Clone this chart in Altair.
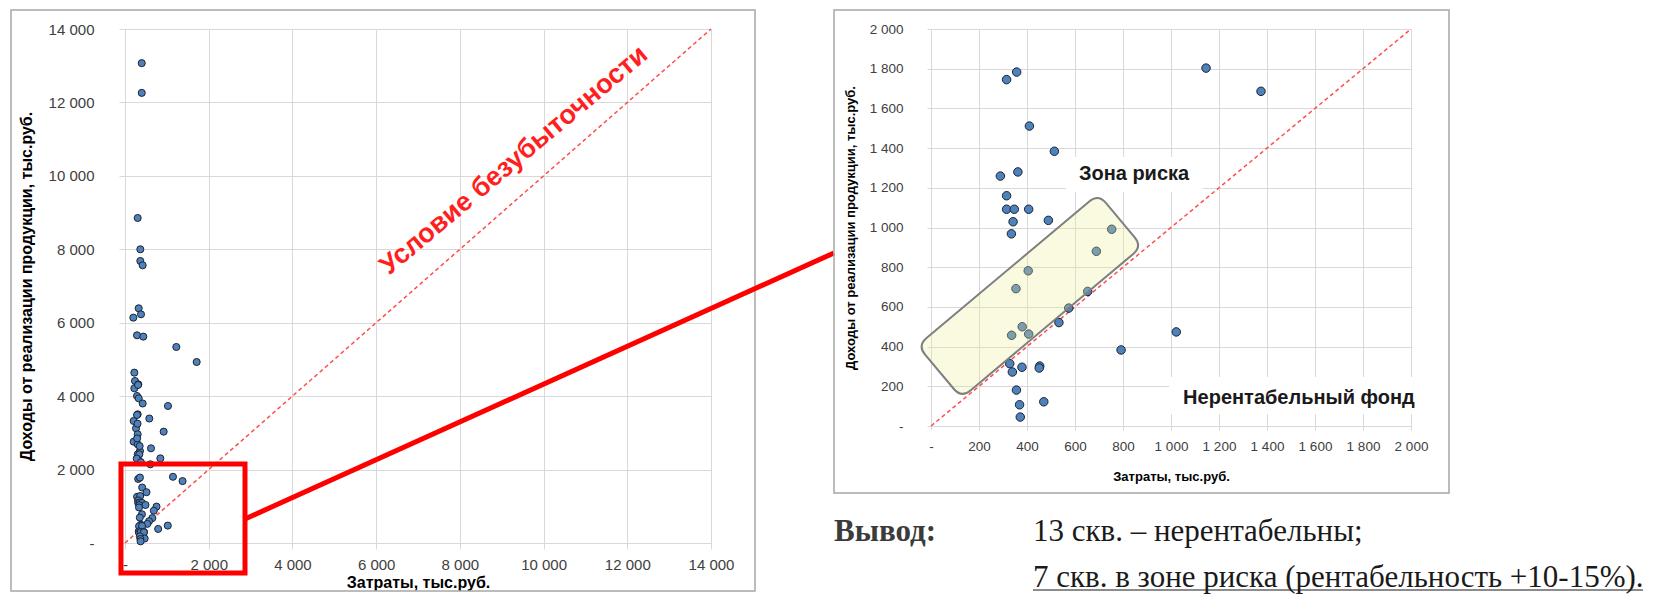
import altair as alt
import pandas as pd

# ---- data (тыс.руб.) ----
# wells visible in the zoomed chart (costs <= 2000, revenue <= 2000)
zoom_cost = [315, 357, 1146, 1375, 410, 514, 289, 362, 315, 315, 347, 407, 342, 489,
             335, 753, 689, 405, 354, 653, 574, 533, 380, 336, 407, 1022, 792, 328,
             339, 379, 453, 451, 356, 470, 369, 372]
zoom_rev = [1745, 1783, 1803, 1686, 1511, 1384, 1259, 1280, 1160, 1092, 1092, 1092, 1029, 1036,
            968, 991, 880, 782, 692, 678, 594, 521, 500, 457, 463, 474, 383, 314,
            272, 296, 302, 292, 181, 122, 107, 45]
# remaining wells (revenue above 2000)
high_cost = [400, 400, 303, 366, 366, 422, 327, 382, 199, 287, 437, 1226, 1712, 223,
             239, 318, 223, 287, 327, 422, 1027, 303, 581, 287, 207, 263, 924, 303,
             207, 303, 358, 621, 303, 844, 605, 330, 311, 342, 290, 350, 280, 380, 300]
high_rev = [13070, 12260, 8853, 8000, 7682, 7564, 6393, 6229, 6138, 5657, 5621, 5339, 4930, 4640,
            4413, 4322, 4213, 4004, 3941, 3800, 3732, 3505, 3390, 3487, 3323, 3124, 3033, 2961,
            2760, 2688, 2506, 2579, 2415, 2306, 2143, 2250, 4304, 2416, 2850, 2640, 2300, 2200, 3250]

left_ticks = [0, 2000, 4000, 6000, 8000, 10000, 12000, 14000]
right_ticks = [0, 200, 400, 600, 800, 1000, 1200, 1400, 1600, 1800, 2000]

risk_center = {"cost": [412], "rev": [655]}

df = pd.DataFrame({"cost": zoom_cost + high_cost, "rev": zoom_rev + high_rev})

LABEL_EXPR = "datum.value == 0 ? '-' : replace(format(datum.value, ','), ',', ' ')"
SANS = "Liberation Sans"
SERIF = "Liberation Serif"
GRID = "#d9d9d9"


def one(**kw):
    return pd.DataFrame({k: [v] for k, v in kw.items()})


def axis(values, title, label_pad, tick, title_pad, lsize, tsize):
    return alt.Axis(values=values, labelExpr=LABEL_EXPR, grid=True, gridColor=GRID, gridWidth=1,
                    domain=False, ticks=True, tickColor=GRID, tickSize=tick, labelPadding=label_pad,
                    labelFont=SANS, labelFontSize=lsize, labelColor="#404040", labelFlush=False,
                    title=title, titleFont=SANS, titleFontSize=tsize, titleFontWeight="bold",
                    titleColor="#000000", titlePadding=title_pad, labelOverlap=False)


# ================= LEFT CHART =================
LW, LH = 586, 514
xL = alt.Scale(domain=[0, 14000], nice=False, zero=False)
yL = alt.Scale(domain=[0, 14000], nice=False, zero=False)
axLx = axis(left_ticks, "Затраты, тыс.руб.", 8, 6, 2, 15, 16)
axLy = axis(left_ticks, "Доходы от реализации продукции, тыс.руб.", 25, 6, 14, 15, 16)
XL = alt.X("cost:Q", scale=xL, axis=axLx)
YL = alt.Y("rev:Q", scale=yL, axis=axLy)

l_frame = alt.Chart(one(a=1)).mark_rect(fillOpacity=0, stroke="#a6a6a6", strokeWidth=1.5).encode(
    x=alt.value(-114), x2=alt.value(630), y=alt.value(-19), y2=alt.value(562))

l_diag = alt.Chart(pd.DataFrame({"cost": [0, 14000], "rev": [0, 14000]})).mark_line(
    color="#ff4d4d", strokeDash=[4, 3], strokeWidth=1.5).encode(x=XL, y=YL)

l_pts = alt.Chart(df).mark_circle(size=50, color="#4f81bd", stroke="#1c2430", strokeWidth=1,
                                   opacity=1).encode(x=XL, y=YL)

l_text = alt.Chart(one(cost=9293, rev=10420, t="Условие безубыточности")).mark_text(
    angle=320, font=SANS, fontSize=27, fontWeight="bold", color="#ff1f1f",
    align="center", baseline="middle").encode(x=XL, y=YL, text="t:N")

l_box = alt.Chart(one(cost=-96, cost2=2867, rev=2152, rev2=-817)).mark_rect(
    fillOpacity=0, stroke="#ff0000", strokeWidth=5).encode(x=XL, x2="cost2:Q", y=YL, y2="rev2:Q")

l_link = alt.Chart(one(cost=2867, rev=654, cost2=16938, rev2=7900)).mark_rule(
    color="#ff0000", strokeWidth=5).encode(x=XL, x2="cost2:Q", y=YL, y2="rev2:Q")

left = alt.layer(l_frame, l_diag, l_pts, l_text, l_box, l_link).properties(width=LW, height=LH)

# ================= RIGHT CHART =================
RW, RH = 480, 397
xR = alt.Scale(domain=[0, 2000], nice=False, zero=False)
yR = alt.Scale(domain=[0, 2000], nice=False, zero=False)
axRx = axis(right_ticks, "Затраты, тыс.руб.", 9, 4, 18, 13.5, 13)
axRy = axis(right_ticks, "Доходы от реализации продукции, тыс.руб.", 24, 4, 12, 13.5, 13)
XR = alt.X("cost:Q", scale=xR, axis=axRx)
YR = alt.Y("rev:Q", scale=yR, axis=axRy)

r_frame = alt.Chart(one(a=1)).mark_rect(fillOpacity=0, stroke="#a6a6a6", strokeWidth=1.5).encode(
    x=alt.value(-97), x2=alt.value(518), y=alt.value(-19), y2=alt.value(464))

r_white = alt.Chart(pd.DataFrame({"cost": [562, 992], "cost2": [1133, 2063],
                                  "rev": [1355, 247], "rev2": [1179, 60]})).mark_rect(
    color="#ffffff").encode(x=XR, x2="cost2:Q", y=YR, y2="rev2:Q")

r_diag = alt.Chart(pd.DataFrame({"cost": [0, 2000], "rev": [0, 2000]})).mark_line(
    color="#ff4d4d", strokeDash=[4, 3], strokeWidth=1.5).encode(x=XR, y=YR)

r_pts = alt.Chart(df).transform_filter("datum.cost <= 2000 && datum.rev <= 2000").mark_circle(
    size=72, color="#4f81bd", stroke="#1c2430", strokeWidth=1, opacity=1).encode(x=XR, y=YR)

RISK_PATH = ("M -0.9 -0.29 L 0.9 -0.29 Q 1 -0.29 1 -0.19 L 1 0.19 Q 1 0.29 0.9 0.29 "
             "L -0.9 0.29 Q -1 0.29 -1 0.19 L -1 -0.19 Q -1 -0.29 -0.9 -0.29 Z")
r_risk = alt.Chart(pd.DataFrame(risk_center)).mark_point(
    shape=RISK_PATH, size=55696, angle=320, filled=True, fill="#eded90", fillOpacity=0.28,
    stroke="#7f7f7f", strokeOpacity=1, strokeWidth=2, opacity=1).encode(x=XR, y=YR)

r_labels = alt.Chart(pd.DataFrame({"cost": [846, 1533], "rev": [1270, 141],
                                   "t": ["Зона риска", "Нерентабельный  фонд"]})).mark_text(
    font=SANS, fontSize=20, fontWeight="bold", color="#1a1a1a", align="center",
    baseline="middle").encode(x=XR, y=YR, text="t:N")

t1 = alt.Chart(one(a=1)).mark_text(text="Вывод:", font=SERIF, fontSize=31, fontWeight="bold",
                                   color="#3b3b3b", align="left", baseline="alphabetic").encode(
    x=alt.value(-97), y=alt.value(512))
t2 = alt.Chart(one(a=1)).mark_text(text="13 скв. – нерентабельны;", font=SERIF, fontSize=31,
                                   color="#1a1a1a", align="left", baseline="alphabetic").encode(
    x=alt.value(102), y=alt.value(512))
t3 = alt.Chart(one(a=1)).mark_text(text="7 скв. в зоне риска (рентабельность  +10-15%).",
                                   font=SERIF, fontSize=31, color="#1a1a1a", align="left",
                                   baseline="alphabetic").encode(x=alt.value(102), y=alt.value(558))
t_ul = alt.Chart(one(a=1)).mark_rule(color="#1a1a1a", strokeWidth=1.2).encode(
    x=alt.value(102), x2=alt.value(712), y=alt.value(561))

right = alt.layer(r_frame, r_white, r_diag, r_pts, r_risk, r_labels, t1, t2, t3, t_ul).properties(
    width=RW, height=RH)

chart = alt.hconcat(left, right, spacing=220, bounds="flush").properties(
    padding={"left": 1, "top": 0, "right": 0, "bottom": 0}
).configure_view(strokeWidth=0).configure(background="white")

chart.save("out.html", embed_options={"renderer": "svg", "actions": False})
